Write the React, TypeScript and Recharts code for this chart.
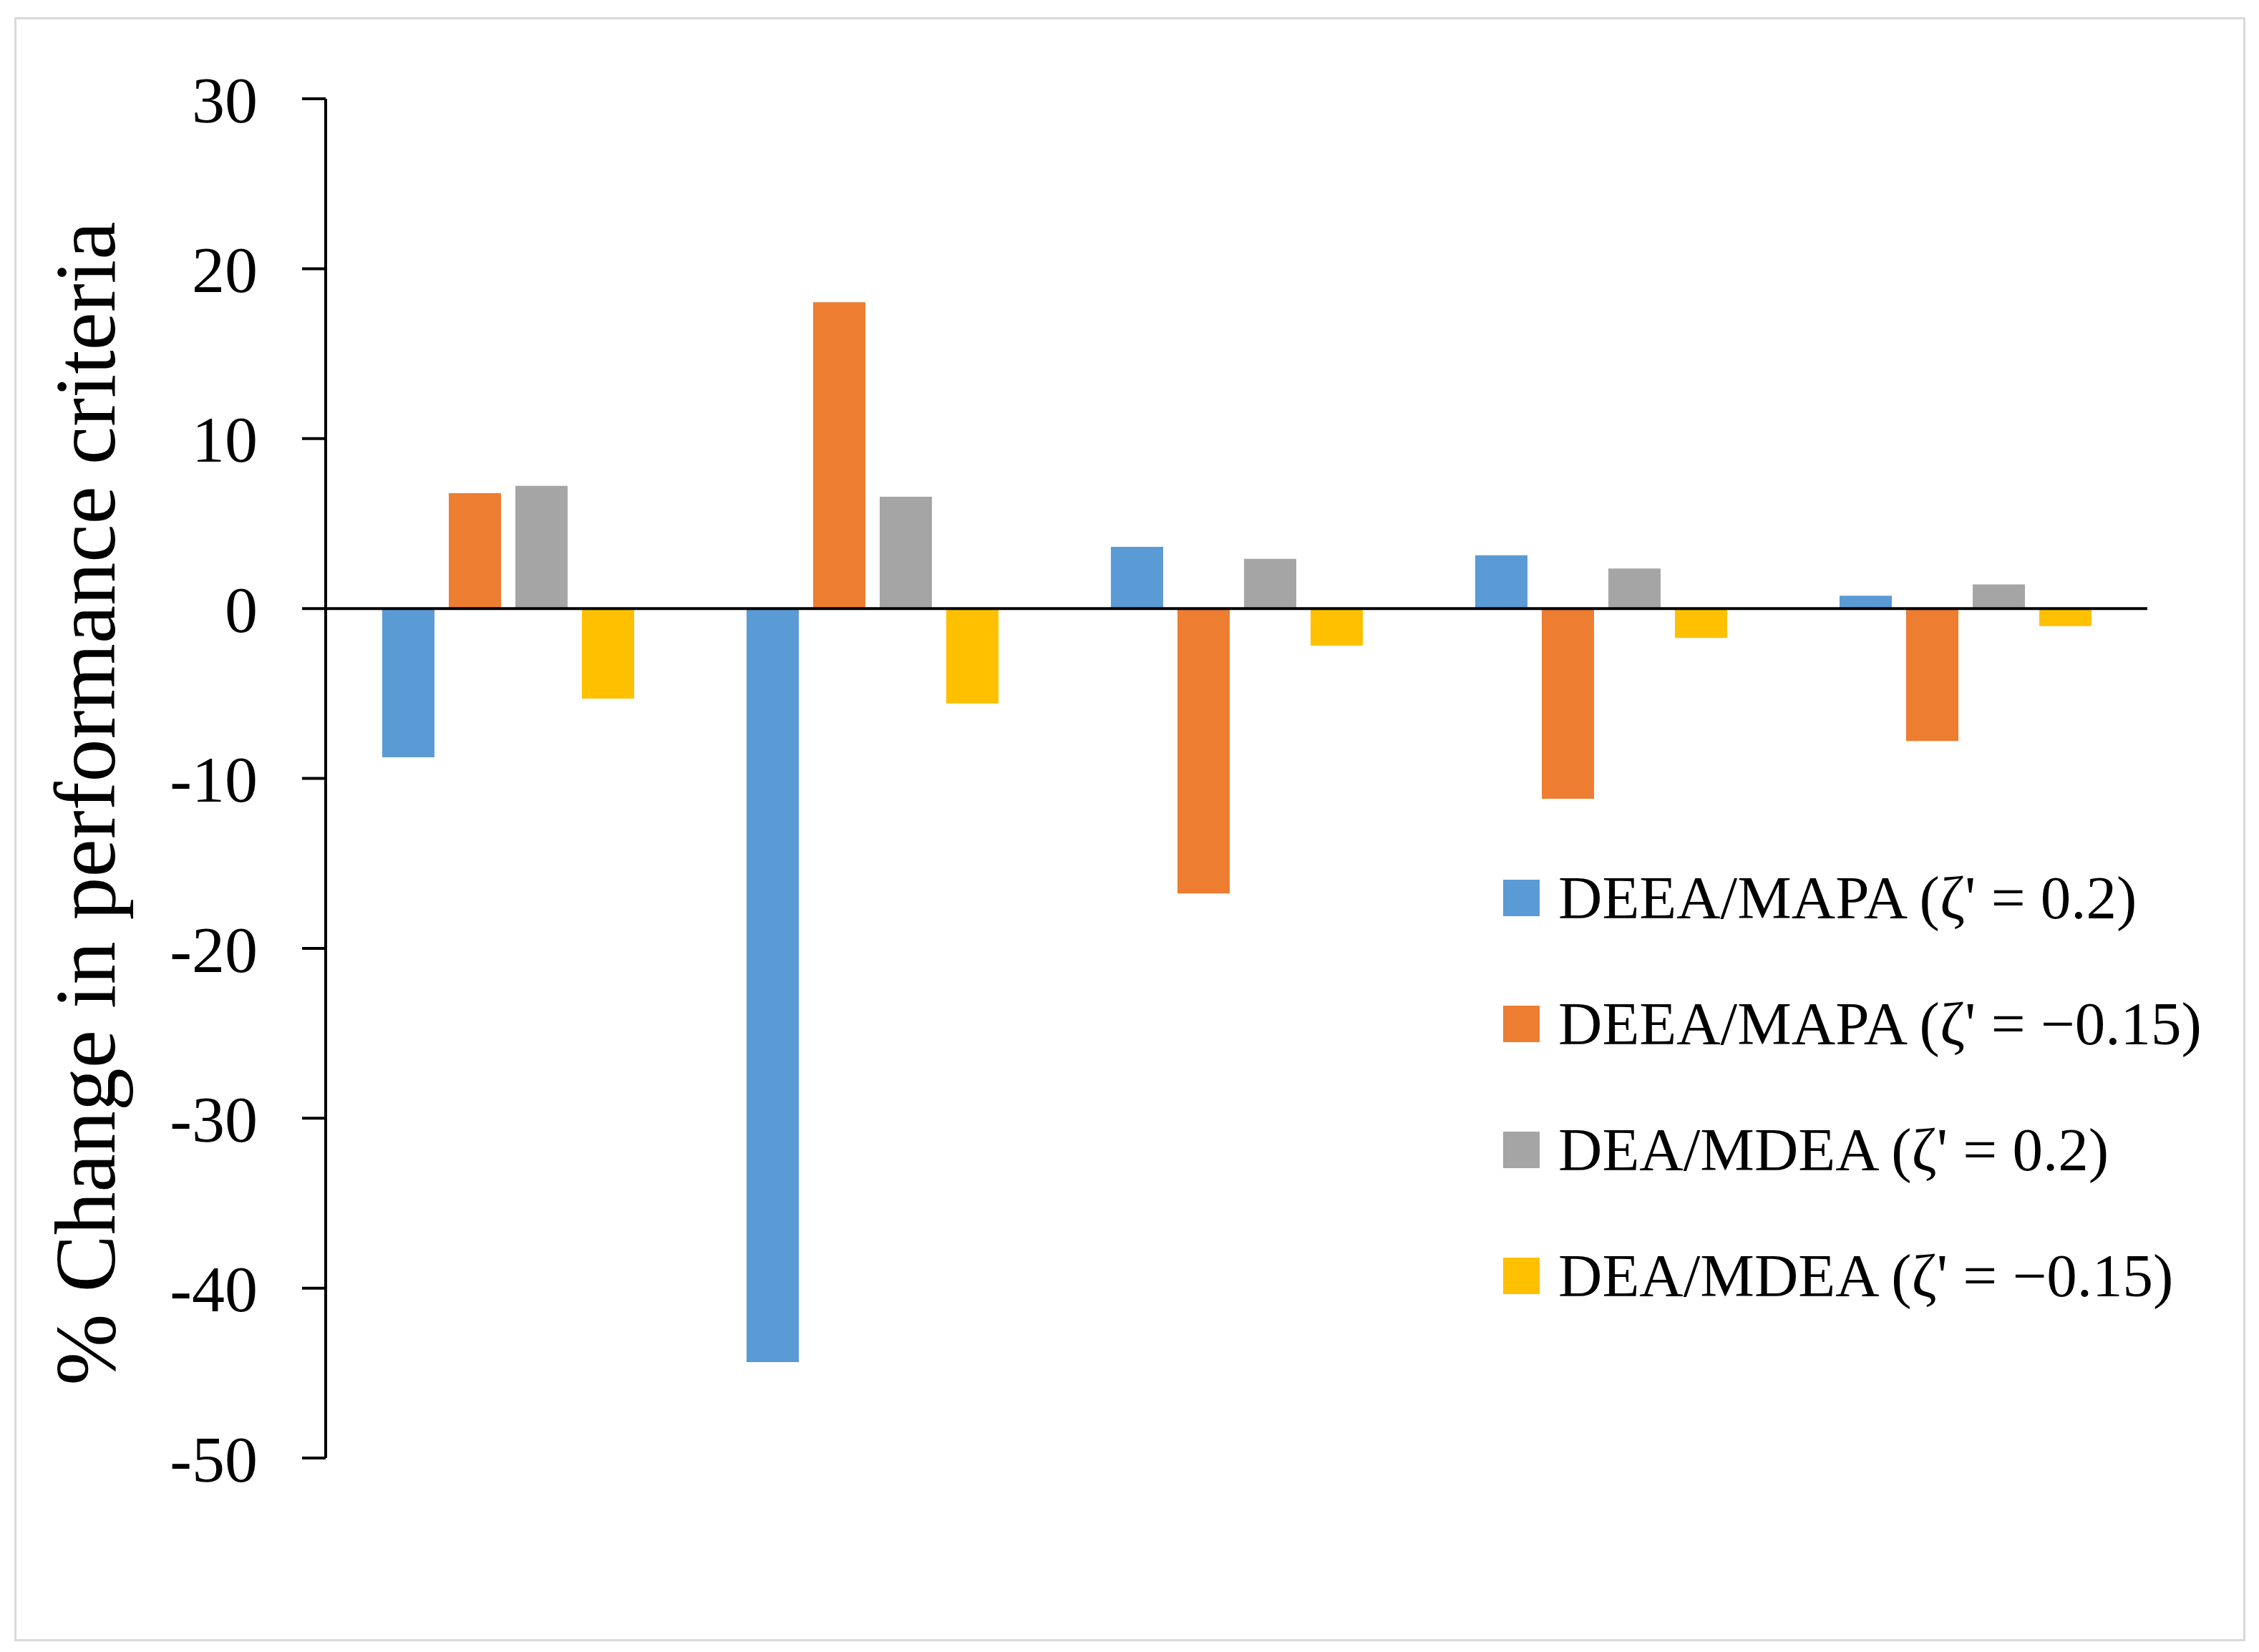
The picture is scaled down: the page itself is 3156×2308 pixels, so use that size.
import { BarChart, Bar, XAxis, YAxis, Legend, ReferenceLine } from "recharts";

const categories = ["1", "2", "3", "4", "5"];
const deeaPos = [-8.76, -44.35, 3.63, 3.13, 0.75];
const deeaNeg = [6.79, 18.03, -16.77, -11.2, -7.8];
const deaPos = [7.22, 6.58, 2.92, 2.35, 1.42];
const deaNeg = [-5.3, -5.59, -2.19, -1.73, -1.04];
const yTicks = [-50, -40, -30, -20, -10, 0, 10, 20, 30];

const series = [
  { key: "deeaPos", name: "DEEA/MAPA (\u03b6' = 0.2)", color: "#5B9BD5" },
  { key: "deeaNeg", name: "DEEA/MAPA (\u03b6' = \u22120.15)", color: "#ED7D31" },
  { key: "deaPos", name: "DEA/MDEA (\u03b6' = 0.2)", color: "#A5A5A5" },
  { key: "deaNeg", name: "DEA/MDEA (\u03b6' = \u22120.15)", color: "#FFC000" },
];

const data = categories.map((c, i) => ({
  cat: c,
  deeaPos: deeaPos[i],
  deeaNeg: deeaNeg[i],
  deaPos: deaPos[i],
  deaNeg: deaNeg[i],
}));

const FONT = "'Liberation Serif', 'Times New Roman', serif";

// keep legend rows in series order (recharts sorts by name otherwise)
function LegendBox(props: any) {
  const items = [...(props.payload || [])].sort(
    (a: any, b: any) =>
      series.findIndex((s) => s.name === a.value) -
      series.findIndex((s) => s.name === b.value)
  );
  return (
    <div style={{ fontFamily: FONT }}>
      {items.map((it: any) => (
        <div
          key={it.value}
          style={{ display: "flex", alignItems: "center", height: 176 }}
        >
          <span
            style={{
              display: "inline-block",
              width: 51,
              height: 51,
              background: it.color,
              marginRight: 26,
            }}
          />
          <span style={{ fontSize: 85, color: "#000", whiteSpace: "nowrap" }}>
            {it.value}
          </span>
        </div>
      ))}
    </div>
  );
}

export default function App() {
  return (
    <div
      style={{
        position: "absolute",
        left: 0,
        top: 0,
        width: 3156,
        height: 2308,
        background: "#fff",
      }}
    >
      <div
        style={{
          position: "absolute",
          left: 20,
          top: 24,
          width: 3111,
          height: 2263,
          border: "3px solid #d9d9d9",
        }}
      />
      <BarChart
        width={3156}
        height={2308}
        data={data}
        margin={{ top: 138, right: 156, bottom: 271, left: 0 }}
        barGap={20}
        barSize={73}
      >
        <XAxis dataKey="cat" hide />
        <YAxis
          width={455}
          domain={[-50, 30]}
          ticks={yTicks}
          interval={0}
          allowDataOverflow
          axisLine={{ stroke: "#000", strokeWidth: 4 }}
          tickLine={{ stroke: "#000", strokeWidth: 4 }}
          tickSize={33}
          tickMargin={62}
          tick={{ fill: "#000", fontSize: 92, fontFamily: FONT }}
          label={{
            value: "% Change in performance criteria",
            angle: -90,
            position: "insideLeft",
            offset: 117,
            dy: 35,
            style: {
              textAnchor: "middle",
              fontSize: 120,
              fontFamily: FONT,
              fill: "#000",
            },
          }}
        />
        <ReferenceLine y={0} stroke="#000" strokeWidth={4} />
        {series.map((s) => (
          <Bar
            key={s.key}
            dataKey={s.key}
            name={s.name}
            fill={s.color}
            isAnimationActive={false}
          />
        ))}
        <Legend
          layout="vertical"
          align="center"
          verticalAlign="middle"
          width={1000}
          wrapperStyle={{ left: 2100, top: 1166 }}
          content={<LegendBox />}
        />
      </BarChart>
    </div>
  );
}
